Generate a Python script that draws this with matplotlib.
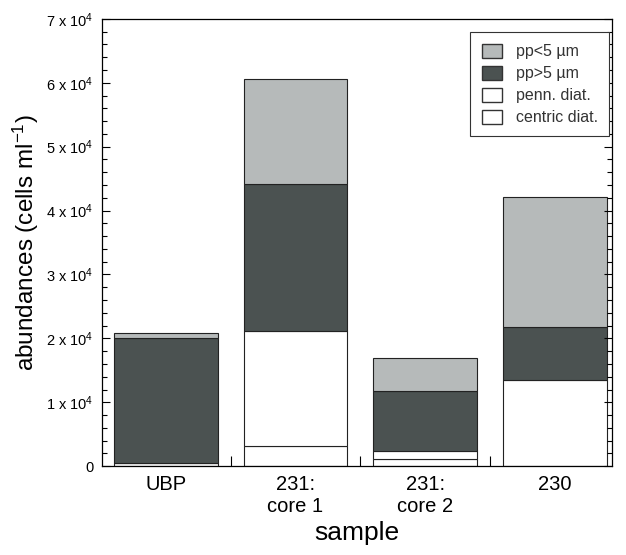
import matplotlib
matplotlib.use("Agg")
import matplotlib.pyplot as plt
from matplotlib.patches import Patch
from matplotlib.ticker import FixedLocator, MultipleLocator
import numpy as np

plt.rcParams['font.family'] = ['Liberation Sans', 'DejaVu Sans']
plt.rcParams['mathtext.fontset'] = 'custom'
plt.rcParams['mathtext.rm'] = 'Liberation Sans'
plt.rcParams['mathtext.it'] = 'Liberation Sans'

# data (cells per ml)
samples = ["UBP", "231:\ncore 1", "231:\ncore 2", "230"]
centric_diat = [500, 3200, 1200, 0]
penn_diat = [0, 18000, 1150, 13500]
pp_gt5 = [19500, 22900, 9450, 8300]
pp_lt5 = [900, 16500, 5100, 20300]

light = "#b6baba"
dark = "#4b5251"

fig = plt.figure(figsize=(6.26, 5.55), dpi=100)
ax = fig.add_axes([0.163, 0.160, 0.815, 0.806])

x = np.arange(len(samples))
w = 0.80
bottom = np.zeros(len(samples))
layers = [(centric_diat, "white"), (penn_diat, "white"),
          (pp_gt5, dark), (pp_lt5, light)]
for vals, col in layers:
    ax.bar(x, vals, w, bottom=bottom, color=col, edgecolor="#222222", linewidth=0.8)
    bottom += np.array(vals)

ax.set_xlim(-0.49, 3.44)
ax.set_ylim(0, 70000)

ax.set_xticks(x)
ax.set_xticklabels(samples, fontsize=14.5)
ax.tick_params(axis="x", length=0, pad=6)
ax.xaxis.set_minor_locator(FixedLocator([0.5, 1.5, 2.5]))
ax.tick_params(axis="x", which="minor", direction="in", length=7, width=0.8)

yticks = np.arange(0, 70001, 10000)
ax.set_yticks(yticks)
ax.yaxis.set_minor_locator(MultipleLocator(2000))
ylabels = ["0"] + [r"%d x 10$^{4}$" % i for i in range(1, 8)]
ax.set_yticklabels(ylabels, fontsize=10.5)
ax.tick_params(axis="y", which="major", direction="in", length=6, width=0.8, pad=6)
ax.tick_params(axis="y", which="minor", direction="in", length=3.5, width=0.8)
ax.tick_params(axis="y", which="both", right=True)

ax.set_ylabel(r"abundances (cells ml$^{-1}$)", fontsize=17.5, labelpad=4)
ax.set_xlabel("sample", fontsize=19, labelpad=4)

for s in ax.spines.values():
    s.set_linewidth(0.9)

handles = [Patch(facecolor=light, edgecolor="#333333", label="pp<5 µm"),
           Patch(facecolor=dark, edgecolor="#333333", label="pp>5 µm"),
           Patch(facecolor="white", edgecolor="#333333", label="penn. diat."),
           Patch(facecolor="white", edgecolor="#333333", label="centric diat.")]
leg = ax.legend(handles=handles, loc="upper right", bbox_to_anchor=(0.986, 0.956),
                bbox_transform=fig.transFigure, fontsize=11.5, fancybox=False,
                edgecolor="#333333", framealpha=1, handlelength=1.25,
                handleheight=1.0, labelspacing=0.4, borderpad=0.7,
                handletextpad=0.9)
leg.get_frame().set_linewidth(0.8)
for t in leg.get_texts():
    t.set_color("#333333")

fig.savefig("out.png", dpi=100)
